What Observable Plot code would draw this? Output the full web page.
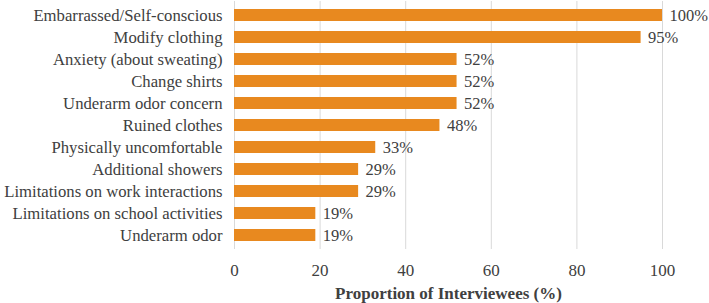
<!DOCTYPE html>
<html>
<head>
<meta charset="utf-8">
<script src="https://cdn.jsdelivr.net/npm/d3@7"></script>
<script src="https://cdn.jsdelivr.net/npm/@observablehq/plot@0.6"></script>
<style>
  html, body { margin: 0; padding: 0; background: #fff; }
  svg { display: block; }
  #chart svg, #chart svg text { font-family: "Liberation Serif", "Times New Roman", Times, serif !important; }
</style>
</head>
<body>
<div id="chart"></div>
<script>
const categories = [
  "Embarrassed/Self-conscious",
  "Modify clothing",
  "Anxiety (about sweating)",
  "Change shirts",
  "Underarm odor concern",
  "Ruined clothes",
  "Physically uncomfortable",
  "Additional showers",
  "Limitations on work interactions",
  "Limitations on school activities",
  "Underarm odor"
];
const values = [100, 95, 52, 52, 52, 48, 33, 29, 29, 19, 19];
const xTicks = [0, 20, 40, 60, 80, 100];
const xLabel = "Proportion of Interviewees (%)";

const data = categories.map((c, i) => ({category: c, value: values[i]}));
const serif = "Liberation Serif";

const chart = Plot.plot({
  width: 709,
  height: 303,
  marginTop: 1,
  marginBottom: 54,
  marginLeft: 234,
  marginRight: 47,
  style: {fontFamily: "Liberation Serif, serif", fontSize: "17px", color: "#404040", background: "#fff"},
  x: {domain: [0, 100], ticks: xTicks, grid: false, label: null},
  y: {domain: categories, paddingInner: 0.47, paddingOuter: 0.235, label: null},
  marks: [
    Plot.gridX(xTicks, {stroke: "#d9d9d9", strokeOpacity: 1}),
    Plot.barX(data, {x: "value", y: "category", fill: "#E8891F"}),
    Plot.text(data, {x: "value", y: "category", text: d => d.value + "%", textAnchor: "start", dx: 7, fill: "#404040", fontSize: 16.5, fontFamily: serif}),
    Plot.axisY({tickSize: 0, tickPadding: 12, fontSize: 16.7, fontFamily: serif, label: null}),
    Plot.axisX(xTicks, {tickSize: 0, tickPadding: 14, fontSize: 17, fontFamily: serif, label: null}),
    Plot.text([xLabel], {frameAnchor: "bottom", lineAnchor: "middle", dy: 44, fontWeight: "bold", fontSize: 17, fontFamily: serif, fill: "#404040"})
  ]
});
document.getElementById("chart").appendChild(chart);
</script>
</body>
</html>
